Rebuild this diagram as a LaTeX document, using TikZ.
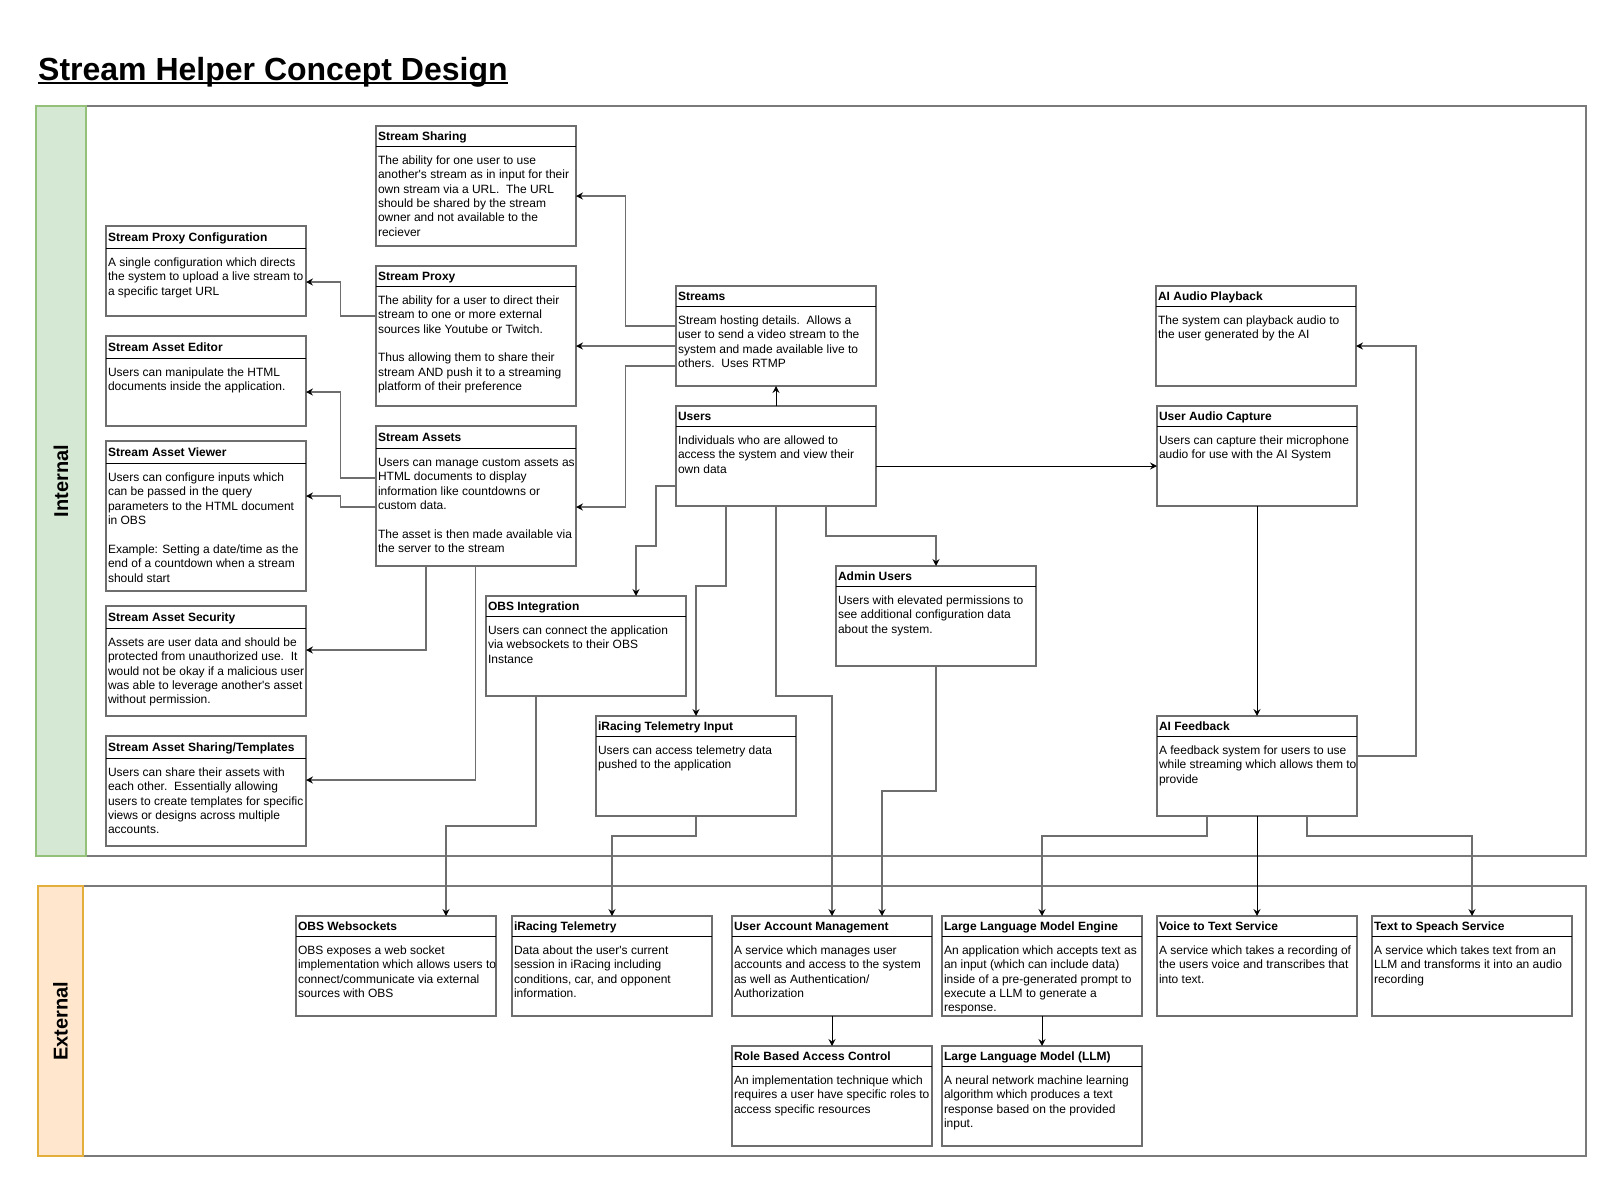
\documentclass[tikz,border=0pt]{standalone}
\usepackage{fontspec}
\setmainfont{Liberation Sans}
\usetikzlibrary{arrows.meta}
\definecolor{lgray}{HTML}{6E6E6E}
\definecolor{cborder}{HTML}{7A7A7A}
\definecolor{greenfill}{HTML}{D5E8D4}
\definecolor{greenline}{HTML}{94C17A}
\definecolor{orangefill}{HTML}{FFE6CC}
\definecolor{orangeline}{HTML}{E3AE3A}
\tikzset{
  ubox/.style={draw=lgray, line width=1.5pt, fill=white, minimum width=200pt, inner sep=0pt, outer sep=0pt},
  hline/.style={draw=black, line width=1pt},
  htext/.style={inner sep=0pt, outer sep=0pt, font=\fontsize{12}{14.4}\selectfont\bfseries},
  btext/.style={inner sep=0pt, outer sep=0pt, align=left, font=\fontsize{12}{14.4}\selectfont},
  conn/.style={draw=lgray, line width=1.5pt, -{Stealth[color=black,length=7pt,width=7pt,inset=2.5pt]}},
  connb/.style={draw=black, line width=1pt, -{Stealth[color=black,length=7pt,width=7pt,inset=2.5pt]}},
  lane/.style={draw=cborder, line width=1.5pt, inner sep=0pt, outer sep=0pt, anchor=north west},
  lanelabel/.style={rotate=90, inner sep=0pt, font=\fontsize{20}{24}\selectfont\bfseries}
}
% name, x, y, height, header height, title, body
\newcommand\ubx[7]{%
  \node[ubox, minimum height=#4pt, anchor=north west] (#1) at (#2,#3) {};
  \draw[hline] ([yshift=-#5pt]#1.north west) -- ([yshift=-#5pt]#1.north east);
  \node[htext, anchor=base west] (#1-t) at ([xshift=2pt,yshift=-#5pt/2-4.3pt]#1.north west) {#6};
  \node[btext, anchor=north west] (#1-b) at ([xshift=2pt,yshift=-#5pt-7.3pt]#1.north west) {\rule{0pt}{11pt}#7};
}
\newcommand\q{\textquotesingle}
\begin{document}
\begin{tikzpicture}[x=1pt,y=-1pt]
\useasboundingbox (0,0) rectangle (1622,1203);

% title
\node[anchor=base west, inner sep=0pt, font=\fontsize{32}{38}\selectfont\bfseries] (title) at (38,80) {Stream Helper Concept Design};
\draw[line width=2pt] ([yshift=-2.8pt]title.base west) -- ([yshift=-2.8pt]title.base east);

% lanes
\node[lane, minimum width=1550pt, minimum height=750pt] (internal) at (36,106) {};
\node[lane, draw=greenline, fill=greenfill, line width=1.3pt, minimum width=50pt, minimum height=750pt] (intband) at (36,106) {};
\node[lanelabel] (intlabel) at (intband.center) {Internal};
\node[lane, minimum width=1548pt, minimum height=270pt] (external) at (38,886) {};
\node[lane, draw=orangeline, fill=orangefill, line width=1.3pt, minimum width=45pt, minimum height=270pt] (extband) at (38,886) {};
\node[lanelabel] (extlabel) at (extband.center) {External};

% boxes
\ubx{sharing}{376}{126}{120}{20}{Stream Sharing}{The ability for one user to use\\another\q s stream as in input for their\\own stream via a URL.\ \ The URL\\should be shared by the stream\\owner and not available to the\\reciever}
\ubx{proxycfg}{106}{226}{90}{22}{Stream Proxy Configuration}{A single configuration which directs\\the system to upload a live stream to\\a specific target URL}
\ubx{proxy}{376}{266}{140}{20}{Stream Proxy}{The ability for a user to direct their\\stream to one or more external\\sources like Youtube or Twitch.\\[14.4pt]Thus allowing them to share their\\stream AND push it to a streaming\\platform of their preference}
\ubx{editor}{106}{336}{90}{22}{Stream Asset Editor}{Users can manipulate the HTML\\documents inside the application.}
\ubx{assets}{376}{426}{140}{22}{Stream Assets}{Users can manage custom assets as\\HTML documents to display\\information like countdowns or\\custom data.\\[14.4pt]The asset is then made available via\\the server to the stream}
\ubx{viewer}{106}{441}{150}{22}{Stream Asset Viewer}{Users can configure inputs which\\can be passed in the query\\parameters to the HTML document\\in OBS\\[14.4pt]Example: Setting a date/time as the\\end of a countdown when a stream\\should start}
\ubx{security}{106}{606}{110}{22}{Stream Asset Security}{Assets are user data and should be\\protected from unauthorized use.\ \ It\\would not be okay if a malicious user\\was able to leverage another\q s asset\\without permission.}
\ubx{templates}{106}{736}{110}{22}{Stream Asset Sharing/Templates}{Users can share their assets with\\each other.\ \ Essentially allowing\\users to create templates for specific\\views or designs across multiple\\accounts.}
\ubx{streams}{676}{286}{100}{20}{Streams}{Stream hosting details.\ \ Allows a\\user to send a video stream to the\\system and made available live to\\others.\ \ Uses RTMP}
\ubx{users}{676}{406}{100}{20}{Users}{Individuals who are allowed to\\access the system and view their\\own data}
\ubx{obsint}{486}{596}{100}{20}{OBS Integration}{Users can connect the application\\via websockets to their OBS\\Instance}
\ubx{iracin}{596}{716}{100}{20}{iRacing Telemetry Input}{Users can access telemetry data\\pushed to the application}
\ubx{admin}{836}{566}{100}{20}{Admin Users}{Users with elevated permissions to\\see additional configuration data\\about the system.}
\ubx{playback}{1156}{286}{100}{20}{AI Audio Playback}{The system can playback audio to\\the user generated by the AI}
\ubx{audiocap}{1157}{406}{100}{20}{User Audio Capture}{Users can capture their microphone\\audio for use with the AI System}
\ubx{aifb}{1157}{716}{100}{20}{AI Feedback}{A feedback system for users to use\\while streaming which allows them to\\provide}
\ubx{obsws}{296}{916}{100}{20}{OBS Websockets}{OBS exposes a web socket\\implementation which allows users to\\connect/communicate via external\\sources with OBS}
\ubx{iracing}{512}{916}{100}{20}{iRacing Telemetry}{Data about the user\q s current\\session in iRacing including\\conditions, car, and opponent\\information.}
\ubx{uam}{732}{916}{100}{20}{User Account Management}{A service which manages user\\accounts and access to the system\\as well as Authentication/\\Authorization}
\ubx{llmeng}{942}{916}{100}{20}{Large Language Model Engine}{An application which accepts text as\\an input (which can include data)\\inside of a pre-generated prompt to\\execute a LLM to generate a\\response.}
\ubx{v2t}{1157}{916}{100}{20}{Voice to Text Service}{A service which takes a recording of\\the users voice and transcribes that\\into text.}
\ubx{tts}{1372}{916}{100}{20}{Text to Speach Service}{A service which takes text from an\\LLM and transforms it into an audio\\recording}
\ubx{rbac}{732}{1046}{100}{20}{Role Based Access Control}{An implementation technique which\\requires a user have specific roles to\\access specific resources}
\ubx{llm}{942}{1046}{100}{20}{Large Language Model (LLM)}{A neural network machine learning\\algorithm which produces a text\\response based on the provided\\input.}

% connectors
\draw[conn] (streams.west |- 0,326) -- (625.4,326) -- (625.4,196) -- (sharing.east |- 0,196);
\draw[conn] (streams.west |- 0,346) -- (proxy.east |- 0,346);
\draw[conn] (streams.west |- 0,366) -- (625.4,366) -- (625.4,507) -- (assets.east |- 0,507);
\draw[conn] (proxy.west |- 0,316) -- (340.6,316) -- (340.6,282) -- (proxycfg.east |- 0,282);
\draw[conn] (assets.west |- 0,478) -- (340.6,478) -- (340.6,392) -- (editor.east |- 0,392);
\draw[conn] (assets.west |- 0,507) -- (340.6,507) -- (340.6,496) -- (viewer.east |- 0,496);
\draw[conn] (assets.south -| 426,0) -- (426,650) -- (security.east |- 0,650);
\draw[conn] (assets.south -| 475.7,0) -- (475.7,780) -- (templates.east |- 0,780);
\draw[connb] (users.north) -- (streams.south);
\draw[connb] (users.east |- 0,466) -- (audiocap.west |- 0,466);
\draw[conn] (users.west |- 0,486) -- (656,486) -- (656,546) -- (636,546) -- (obsint.north -| 636,0);
\draw[conn] (users.south -| 726,0) -- (726,586) -- (696,586) -- (iracin.north);
\draw[conn] (users.south) -- (776,696) -- (832,696) -- (uam.north);
\draw[conn] (users.south -| 826,0) -- (826,536) -- (936,536) -- (admin.north);
\draw[conn] (admin.south) -- (936,791) -- (882,791) -- (uam.north -| 882,0);
\draw[conn] (obsint.south -| 536,0) -- (536,826) -- (446,826) -- (obsws.north -| 446,0);
\draw[conn] (iracin.south) -- (696,836) -- (612,836) -- (iracing.north);
\draw[connb] (audiocap.south) -- (aifb.north);
\draw[conn] (aifb.east |- 0,756) -- (1416,756) -- (1416,346) -- (playback.east |- 0,346);
\draw[conn] (aifb.south -| 1207,0) -- (1207,836) -- (1042,836) -- (llmeng.north);
\draw[connb] (aifb.south) -- (v2t.north);
\draw[conn] (aifb.south -| 1307,0) -- (1307,836) -- (1472,836) -- (tts.north);
\draw[connb] (uam.south) -- (rbac.north);
\draw[connb] (llmeng.south) -- (llm.north);
\end{tikzpicture}
\end{document}
